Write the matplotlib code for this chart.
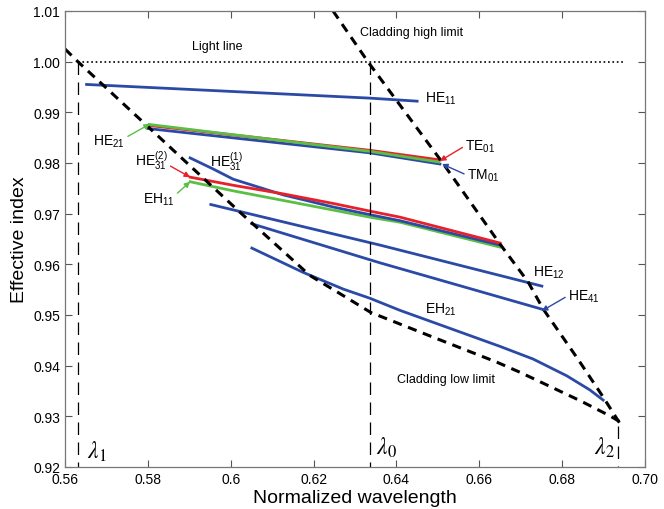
import numpy as np
import matplotlib
matplotlib.use('Agg')
import matplotlib.pyplot as plt

plt.rcParams['font.family'] = ['Liberation Sans', 'DejaVu Sans']
plt.rcParams['mathtext.fontset'] = 'custom'
plt.rcParams['mathtext.rm'] = 'Liberation Sans'
plt.rcParams['mathtext.it'] = 'Liberation Sans:italic'

# mode curves (normalized wavelength, effective index)
he11_x = [0.5652, 0.6336, 0.645]
he11_y = [0.9955, 0.9928, 0.9922]

te01_x = [0.5803, 0.6336, 0.6505]
te01_y = [0.9874, 0.9825, 0.9806]
tm01_x = [0.5800, 0.6336, 0.6505]
tm01_y = [0.9868, 0.9820, 0.9798]
he21_x = [0.5803, 0.6336, 0.6502]
he21_y = [0.9876, 0.9823, 0.9802]

he31a_x = [0.5902, 0.5958, 0.6006, 0.6127, 0.6248, 0.6336, 0.6409, 0.665]
he31a_y = [0.9810, 0.9788, 0.9768, 0.9737, 0.9713, 0.9698, 0.9686, 0.9638]
he31b_x = [0.5902, 0.6006, 0.6127, 0.6248, 0.6336, 0.6409, 0.665]
he31b_y = [0.9772, 0.9756, 0.9739, 0.9720, 0.9705, 0.9693, 0.9642]
eh11_x = [0.5902, 0.6006, 0.6127, 0.6248, 0.6336, 0.6409, 0.665]
eh11_y = [0.9763, 0.9745, 0.9726, 0.9707, 0.9693, 0.9683, 0.9634]

he12_x = [0.5952, 0.636, 0.6751]
he12_y = [0.9718, 0.9638, 0.9557]
he41_x = [0.6051, 0.636, 0.6753]
he41_y = [0.9680, 0.9603, 0.9511]
eh21_x = [0.6051, 0.6175, 0.6272, 0.6336, 0.6409, 0.665, 0.673, 0.6811, 0.6843, 0.6867, 0.6899]
eh21_y = [0.9632, 0.9584, 0.9551, 0.9533, 0.9509, 0.9438, 0.9413, 0.9380, 0.9364, 0.9352, 0.9332]

# cladding limits
clad_hi_x = [0.6247, 0.6331, 0.651, 0.665, 0.6718, 0.6754, 0.6838, 0.6899, 0.694]
clad_hi_y = [1.0100, 1.0000, 0.9802, 0.9640, 0.9565, 0.9512, 0.9413, 0.9338, 0.9285]
clad_lo_x = [0.5600, 0.5631, 0.5788, 0.6022, 0.6102, 0.6191, 0.6272, 0.6338, 0.6489, 0.6642,
             0.6698, 0.6843, 0.6915, 0.6940]
clad_lo_y = [1.0025, 1.0000, 0.9881, 0.9703, 0.9644, 0.9578, 0.9538, 0.9505, 0.9456, 0.9407,
             0.9387, 0.9331, 0.9301, 0.9289]

light_x = [0.5631, 0.6952]
light_y = [1.0, 1.0]

lam1, lam0, lam2 = 0.5631, 0.6336, 0.6935

xticks = [0.56, 0.58, 0.60, 0.62, 0.64, 0.66, 0.68, 0.70]
xtick_labels = ['0.56', '0.58', '0.6', '0.62', '0.64', '0.66', '0.68', '0.70']
yticks = [0.92, 0.93, 0.94, 0.95, 0.96, 0.97, 0.98, 0.99, 1.00, 1.01]

blue = '#2b4aa6'
red = '#e8202a'
green = '#5cbf45'

fig = plt.figure(figsize=(6.64, 5.10), dpi=100)
ax = fig.add_axes([0.0979, 0.0824, 0.8735, 0.8941])

lw = 2.0
ax.plot(he11_x, he11_y, color=blue, lw=lw)
ax.plot(tm01_x, tm01_y, color=blue, lw=lw)
ax.plot(te01_x, te01_y, color=red, lw=lw)
ax.plot(he21_x, he21_y, color=green, lw=lw)
ax.plot(eh11_x, eh11_y, color=green, lw=lw)
ax.plot(he31a_x, he31a_y, color=blue, lw=lw)
ax.plot(he31b_x, he31b_y, color=red, lw=lw)
ax.plot(he12_x, he12_y, color=blue, lw=lw)
ax.plot(he41_x, he41_y, color=blue, lw=lw)
ax.plot(eh21_x, eh21_y, color=blue, lw=lw)

ax.plot(clad_hi_x, clad_hi_y, '--', color='black', lw=2.2, dashes=(3, 2.2))
ax.plot(clad_lo_x, clad_lo_y, '--', color='black', lw=2.2, dashes=(3, 2.2))
ax.plot(light_x, light_y, ':', color='black', lw=1.2)

ax.plot([lam1, lam1], [1.0, 0.92], color='black', lw=0.9, dashes=(10, 6))
ax.plot([lam0, lam0], [1.0, 0.92], color='black', lw=0.9, dashes=(10, 6))
ax.plot([lam2, lam2], [0.928, 0.92], color='black', lw=0.9, dashes=(10, 6))

# labels
fs = 10
ax.text(0.5967, 1.0031, 'Light line', fontsize=9, ha='center', va='center')
ax.text(0.6312, 1.0058, 'Cladding high limit', fontsize=9, ha='left', va='center')
ax.text(0.6401, 0.9374, 'Cladding low limit', fontsize=9, ha='left', va='center')
ax.text(0.6469, 0.9928, r'HE$_{11}$', fontsize=fs, ha='left', va='center')
ax.text(0.5950, 0.9804, r'HE$_{31}^{(1)}$', fontsize=fs, ha='left', va='center')
ax.text(0.6730, 0.9585, r'HE$_{12}$', fontsize=fs, ha='left', va='center')
ax.text(0.6469, 0.9512, r'EH$_{21}$', fontsize=fs, ha='left', va='center')

arrow = dict(arrowstyle='-|>', lw=1.0, mutation_scale=8, shrinkA=0, shrinkB=0)
ax.annotate(r'TE$_{01}$', xy=(0.6505, 0.9804), xytext=(0.6566, 0.9834),
            fontsize=fs, va='center', ha='left',
            arrowprops=dict(arrow, color=red, relpos=(0, 0.5)))
ax.annotate(r'TM$_{01}$', xy=(0.6510, 0.9798), xytext=(0.6570, 0.9776),
            fontsize=fs, va='center', ha='left',
            arrowprops=dict(arrow, color=blue, relpos=(0, 0.5)))
ax.annotate(r'HE$_{21}$', xy=(0.5805, 0.9877), xytext=(0.5745, 0.9843),
            fontsize=fs, va='center', ha='right',
            arrowprops=dict(arrow, color=green, relpos=(1, 0.7)))
ax.annotate(r'HE$_{31}^{(2)}$', xy=(0.5902, 0.9772), xytext=(0.5769, 0.9806),
            fontsize=fs, va='center', ha='left',
            arrowprops=dict(arrow, color=red, relpos=(1, 0.3)))
ax.annotate(r'EH$_{11}$', xy=(0.5902, 0.9763), xytext=(0.5788, 0.9729),
            fontsize=fs, va='center', ha='left',
            arrowprops=dict(arrow, color=green, relpos=(1, 0.7)))
ax.annotate(r'HE$_{41}$', xy=(0.6751, 0.9508), xytext=(0.6814, 0.9538),
            fontsize=fs, va='center', ha='left',
            arrowprops=dict(arrow, color=blue, relpos=(0, 0.5)))

lam_kw = dict(fontsize=17, ha='left', va='center', math_fontfamily='stix')
ax.text(0.5653, 0.9232, r'$\lambda_{\mathit{1}}$', **lam_kw)
ax.text(0.6350, 0.9240, r'$\lambda_{\mathit{0}}$', **lam_kw)
ax.text(0.6877, 0.9240, r'$\lambda_{\mathit{2}}$', **lam_kw)

ax.set_xlim(0.56, 0.70)
ax.set_ylim(0.92, 1.01)
ax.set_xticks(xticks)
ax.set_xticklabels(xtick_labels)
ax.set_yticks(yticks)
ax.set_yticklabels(['%.2f' % v for v in yticks])
ax.tick_params(direction='in', top=True, right=True, labelsize=10, length=5, width=0.8, color='#555555')
for s in ax.spines.values():
    s.set_color('#777777')
    s.set_linewidth(0.9)
ax.set_xlabel('Normalized wavelength', fontsize=14, labelpad=2)
ax.set_ylabel('Effective index', fontsize=14, labelpad=4)

fig.savefig('out.png', dpi=100)
